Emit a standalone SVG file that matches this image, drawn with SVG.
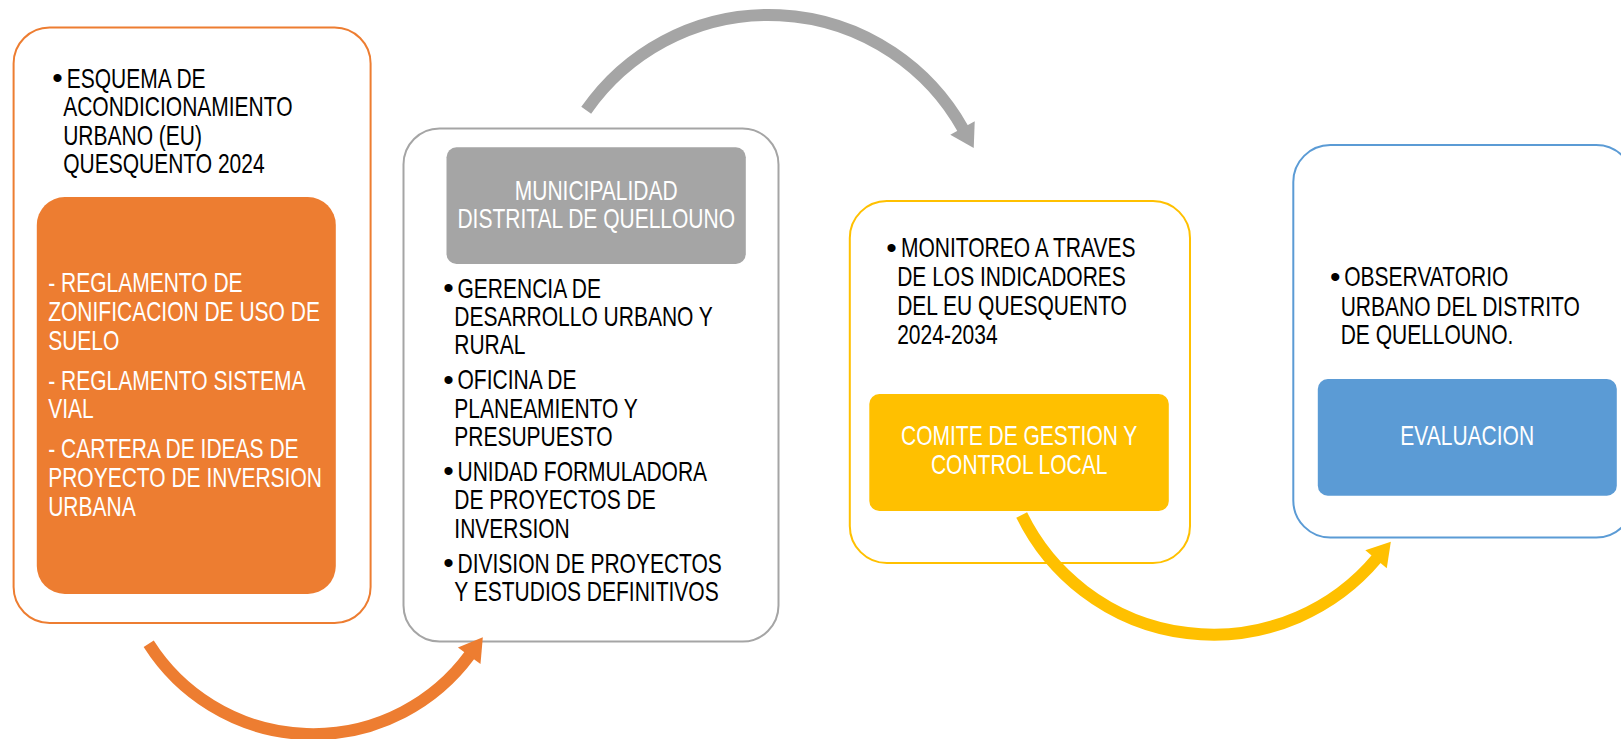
<svg xmlns="http://www.w3.org/2000/svg" width="1621" height="739" viewBox="0 0 1621 739">
<style>
.t{font-family:"Liberation Sans",Arial,sans-serif;font-size:28px}
.dk{fill:#000}
.wh{fill:#fff}
.mid{text-anchor:middle}
.bul{font-family:"Liberation Sans",Arial,sans-serif;font-size:30px;fill:#000}
.outer{fill:#fff;stroke-width:2}
.arc{fill:none;stroke-width:12;stroke-linecap:butt}
</style>
<defs>
<marker id="hOr" markerUnits="userSpaceOnUse" markerWidth="24" markerHeight="28" refX="0" refY="14" orient="auto" overflow="visible"><path d="M-1,0 L22,14 L-1,28 Z" fill="#ED7D31"/></marker>
<marker id="hGr" markerUnits="userSpaceOnUse" markerWidth="24" markerHeight="28" refX="0" refY="14" orient="auto" overflow="visible"><path d="M-1,0 L22,14 L-1,28 Z" fill="#A5A5A5"/></marker>
<marker id="hYe" markerUnits="userSpaceOnUse" markerWidth="24" markerHeight="28" refX="0" refY="14" orient="auto" overflow="visible"><path d="M-1,0 L22,14 L-1,28 Z" fill="#FFC000"/></marker>
</defs>
<rect width="1621" height="739" fill="#fff"/>

<g id="node-1">
<rect class="outer" x="13.6" y="27.5" width="357" height="595.5" rx="36" stroke="#ED7D31"/>
<rect x="36.8" y="197" width="299" height="397" rx="28" fill="#ED7D31"/>
<text class="bul" x="52.3" y="88.1">•</text>
<text class="t dk" transform="translate(63.2 0) scale(0.75 1)"><tspan x="4.8" y="88.1">ESQUEMA DE</tspan><tspan x="0" y="116.4">ACONDICIONAMIENTO</tspan><tspan x="0" y="144.7">URBANO (EU)</tspan><tspan x="0" y="173">QUESQUENTO 2024</tspan></text>
<text class="t wh" transform="translate(48.2 0) scale(0.75 1)"><tspan x="0" y="292.2">- REGLAMENTO DE</tspan><tspan x="0" y="321.4">ZONIFICACION DE USO DE</tspan><tspan x="0" y="349.7">SUELO</tspan><tspan x="0" y="390.2">- REGLAMENTO SISTEMA</tspan><tspan x="0" y="418.5">VIAL</tspan><tspan x="0" y="458">- CARTERA DE IDEAS DE</tspan><tspan x="0" y="486.8">PROYECTO DE INVERSION</tspan><tspan x="0" y="516">URBANA</tspan></text>
</g>

<g id="node-2">
<rect class="outer" x="403.5" y="128.5" width="375" height="513" rx="36" stroke="#A5A5A5"/>
<rect x="446.5" y="147.2" width="299.3" height="116.7" rx="10" fill="#A5A5A5"/>
<text class="t wh mid" transform="translate(596.2 0) scale(0.75 1)"><tspan x="0" y="200.2">MUNICIPALIDAD</tspan><tspan x="0" y="228">DISTRITAL DE QUELLOUNO</tspan></text>
<text class="bul" x="443.3" y="297.7">•</text>
<text class="bul" x="443.3" y="389.5">•</text>
<text class="bul" x="443.3" y="480.7">•</text>
<text class="bul" x="443.3" y="572.7">•</text>
<text class="t dk" transform="translate(454.3 0) scale(0.75 1)"><tspan x="4.3" y="297.7">GERENCIA DE</tspan><tspan x="0" y="326">DESARROLLO URBANO Y</tspan><tspan x="0" y="354.5">RURAL</tspan><tspan x="4.3" y="389.5">OFICINA DE</tspan><tspan x="0" y="418">PLANEAMIENTO Y</tspan><tspan x="0" y="446.3">PRESUPUESTO</tspan><tspan x="4.3" y="480.7">UNIDAD FORMULADORA</tspan><tspan x="0" y="509.5">DE PROYECTOS DE</tspan><tspan x="0" y="538">INVERSION</tspan><tspan x="4.3" y="572.7">DIVISION DE PROYECTOS</tspan><tspan x="0" y="600.7">Y ESTUDIOS DEFINITIVOS</tspan></text>
</g>

<g id="node-3">
<rect class="outer" x="849.8" y="201" width="340.2" height="362" rx="37" stroke="#FFC000"/>
<rect x="869.3" y="394" width="299.5" height="117" rx="10" fill="#FFC000"/>
<text class="bul" x="886.3" y="257.5">•</text>
<text class="t dk" transform="translate(897.2 0) scale(0.75 1)"><tspan x="5.1" y="257.5">MONITOREO A TRAVES</tspan><tspan x="0" y="286.5">DE LOS INDICADORES</tspan><tspan x="0" y="315.3">DEL EU QUESQUENTO</tspan><tspan x="0" y="344.1">2024-2034</tspan></text>
<text class="t wh mid" transform="translate(1019.2 0) scale(0.75 1)"><tspan x="0" y="445.5">COMITE DE GESTION Y</tspan><tspan x="0" y="474.5">CONTROL LOCAL</tspan></text>
</g>

<g id="node-4">
<rect class="outer" x="1293.3" y="145" width="340" height="392.5" rx="37" stroke="#5B9BD5"/>
<rect x="1317.8" y="379" width="299" height="116.8" rx="10" fill="#5B9BD5"/>
<text class="bul" x="1330" y="286.5">•</text>
<text class="t dk" transform="translate(1340.7 0) scale(0.75 1)"><tspan x="4.8" y="286.5">OBSERVATORIO</tspan><tspan x="0" y="315.7">URBANO DEL DISTRITO</tspan><tspan x="0" y="344.5">DE QUELLOUNO.</tspan></text>
<text class="t wh mid" transform="translate(1467.2 0) scale(0.75 1)"><tspan x="0" y="445.5">EVALUACION</tspan></text>
</g>

<g id="connectors">
<path class="arc" d="M148.7,643.8 A194.6,194.6 0 0 0 469.8,654.9" stroke="#ED7D31" marker-end="url(#hOr)"/>
<path class="arc" d="M586.2,110.3 A222.5,222.5 0 0 1 963,128.9" stroke="#A5A5A5" marker-end="url(#hGr)"/>
<path class="arc" d="M1021.7,515 A213.3,213.3 0 0 0 1376.7,558.5" stroke="#FFC000" marker-end="url(#hYe)"/>
</g>
</svg>
